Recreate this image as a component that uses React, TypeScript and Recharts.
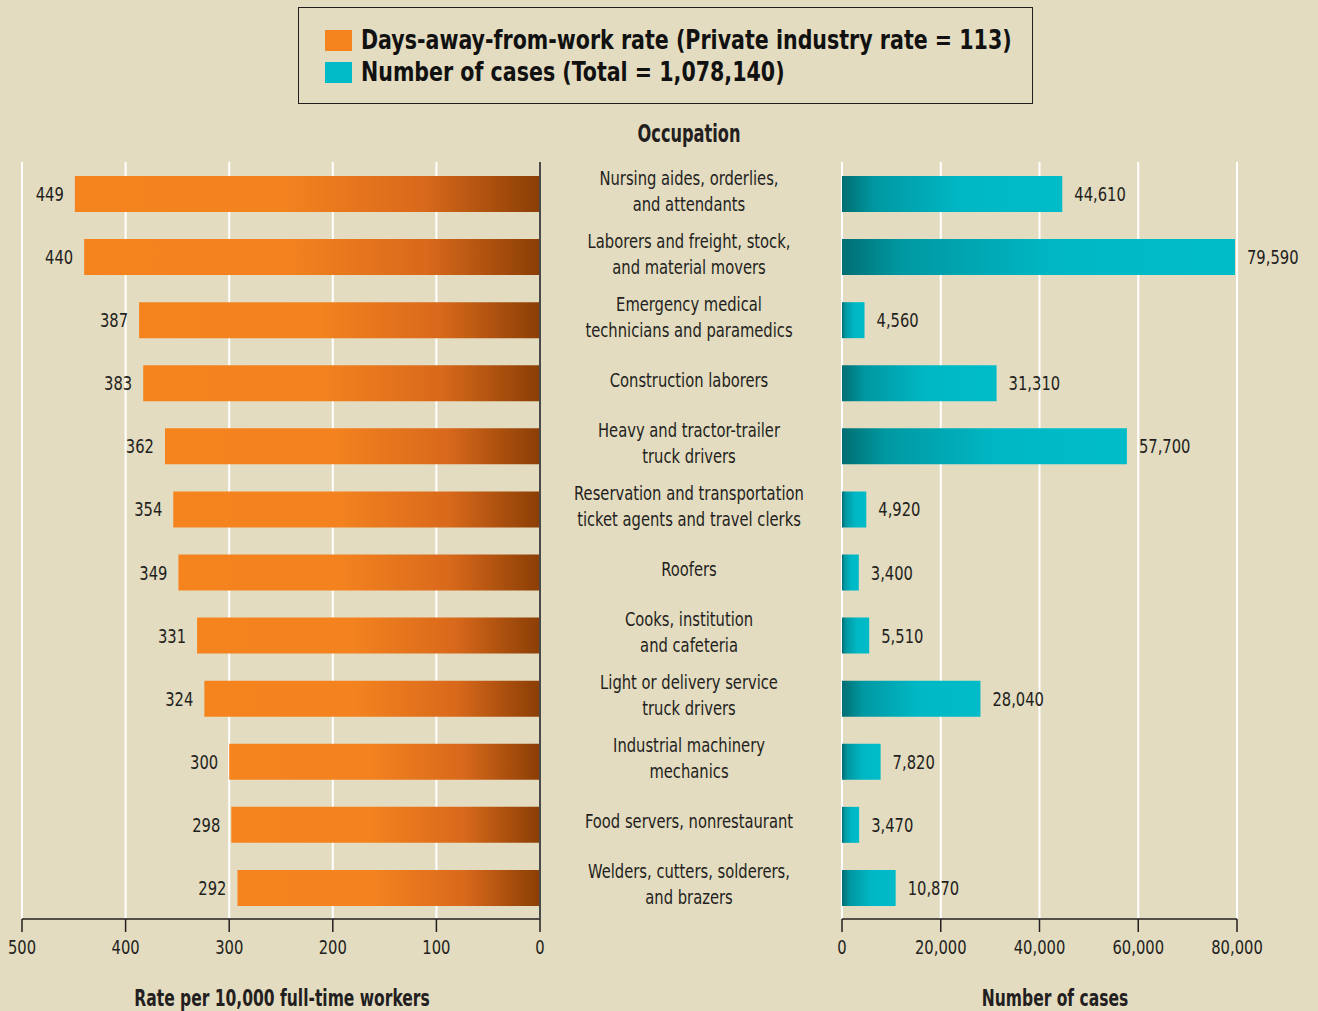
import { BarChart, Bar, XAxis, YAxis, CartesianGrid, LabelList } from "recharts";

const occupations = [
  "Nursing aides, orderlies,\nand attendants",
  "Laborers and freight, stock,\nand material movers",
  "Emergency medical\ntechnicians and paramedics",
  "Construction laborers",
  "Heavy and tractor-trailer\ntruck drivers",
  "Reservation and transportation\nticket agents and travel clerks",
  "Roofers",
  "Cooks, institution\nand cafeteria",
  "Light or delivery service\ntruck drivers",
  "Industrial machinery\nmechanics",
  "Food servers, nonrestaurant",
  "Welders, cutters, solderers,\nand brazers",
];
const rates = [449, 440, 387, 383, 362, 354, 349, 331, 324, 300, 298, 292];
const cases = [44610, 79590, 4560, 31310, 57700, 4920, 3400, 5510, 28040, 7820, 3470, 10870];
const rateTicks = [0, 100, 200, 300, 400, 500];
const caseTicks = [0, 20000, 40000, 60000, 80000];

const data = occupations.map((name, i) => ({ name, rate: rates[i], cases: cases[i] }));

const FONT = "'DejaVu Sans Condensed', 'DejaVu Sans', sans-serif";
const INK = "#231f20";
const BG = "#e3dcc0";
const SQUEEZE = 0.82; // no condensed Myriad available, so narrow the glyphs

const fmt = (v: number) => v.toLocaleString("en-US");

// text drawn narrower than the font so it reads like the condensed original
const NarrowText = ({ x, y, anchor, children, size = 20, weight = 400, sx = SQUEEZE }: any) => (
  <text
    transform={`translate(${x},${y}) scale(${sx},1)`}
    x={0}
    y={0}
    dy="0.35em"
    textAnchor={anchor}
    fill={INK}
    fontSize={size}
    fontWeight={weight}
    fontFamily={FONT}
  >
    {children}
  </text>
);

// two-line occupation labels in the middle column
const OccupationTick = (props: any) => {
  const { x, y, payload } = props;
  const lines = String(payload.value).split("\n");
  const lh = 26;
  const cx = x + 149;
  const start = y - 3 - ((lines.length - 1) * lh) / 2;
  return (
    <g>
      {lines.map((l, i) => (
        <NarrowText key={i} x={cx} y={start + i * lh} anchor="middle">
          {l}
        </NarrowText>
      ))}
    </g>
  );
};

const AxisTick = (props: any) => {
  const { x, y, payload, fmtFn } = props;
  return (
    <NarrowText x={x} y={y + 11} anchor="middle">
      {fmtFn ? fmtFn(payload.value) : payload.value}
    </NarrowText>
  );
};

const RateLabel = (props: any) => {
  const { x, y, width, height, value } = props;
  const left = Math.min(x, x + width);
  return (
    <NarrowText x={left - 11} y={y + height / 2} anchor="end">
      {value}
    </NarrowText>
  );
};

const CaseLabel = (props: any) => {
  const { x, y, width, height, value } = props;
  const right = Math.max(x, x + width);
  return (
    <NarrowText x={right + 12} y={y + height / 2} anchor="start">
      {fmt(Number(value))}
    </NarrowText>
  );
};

const titleCss = {
  position: "absolute" as const,
  top: 985,
  fontSize: 23,
  fontWeight: 700,
  color: INK,
  whiteSpace: "nowrap" as const,
  transform: "translateX(-50%) scaleX(0.75)",
};

export default function App() {
  return (
    <div style={{ position: "absolute", left: 0, top: 0, width: 1318, height: 1011, background: BG, fontFamily: FONT, overflow: "hidden" }}>
      <div
        style={{
          position: "absolute",
          left: 298,
          top: 7,
          width: 735,
          height: 97,
          boxSizing: "border-box",
          border: `1px solid ${INK}`,
        }}
      >
        {[
          { color: "#f5841f", text: "Days-away-from-work rate (Private industry rate = 113)", top: 20 },
          { color: "#00bac7", text: "Number of cases (Total = 1,078,140)", top: 52 },
        ].map((it) => (
          <div key={it.text} style={{ position: "absolute", left: 26, top: it.top, display: "flex", alignItems: "center", height: 24 }}>
            <span style={{ width: 27, height: 21, background: it.color, display: "inline-block", marginRight: 9, flex: "none" }} />
            <span style={{ fontSize: 26, fontWeight: 700, color: "#111", whiteSpace: "nowrap", transform: "scaleX(0.88)", transformOrigin: "left center" }}>
              {it.text}
            </span>
          </div>
        ))}
      </div>

      <div style={{ ...titleCss, left: 689, top: 120, fontSize: 24 }}>Occupation</div>
      <div style={{ ...titleCss, left: 282 }}>Rate per 10,000 full-time workers</div>
      <div style={{ ...titleCss, left: 1055 }}>Number of cases</div>

      <div style={{ position: "absolute", left: 0, top: 0 }}>
        <BarChart width={840} height={1011} data={data} layout="vertical" margin={{ top: 162, right: 0, left: 22, bottom: 42 }} barSize={36}>
          <defs>
            <linearGradient id="orangeGrad" x1="0" y1="0" x2="1" y2="0">
              <stop offset="0" stopColor="#f5841f" />
              <stop offset="0.45" stopColor="#f3821f" />
              <stop offset="0.75" stopColor="#d9691b" />
              <stop offset="1" stopColor="#8a3e05" />
            </linearGradient>
          </defs>
          <CartesianGrid horizontal={false} stroke="#ffffff" strokeWidth={2} />
          <XAxis
            type="number"
            dataKey="rate"
            domain={[0, 500]}
            ticks={rateTicks}
            reversed
            height={50}
            tickSize={13}
            tickMargin={4}
            axisLine={{ stroke: INK, strokeWidth: 1.5 }}
            tickLine={{ stroke: INK, strokeWidth: 1.5 }}
            tick={<AxisTick />}
          />
          <YAxis
            type="category"
            dataKey="name"
            orientation="right"
            width={300}
            tickLine={false}
            tickSize={0}
            tickMargin={0}
            axisLine={{ stroke: "#4a4a4a", strokeWidth: 2 }}
            tick={<OccupationTick />}
            interval={0}
          />
          <Bar dataKey="rate" fill="url(#orangeGrad)" isAnimationActive={false}>
            <LabelList dataKey="rate" content={<RateLabel />} />
          </Bar>
        </BarChart>
      </div>

      <div style={{ position: "absolute", left: 800, top: 0 }}>
        <BarChart width={518} height={1011} data={data} layout="vertical" margin={{ top: 162, right: 81, left: 42, bottom: 42 }} barSize={36}>
          <defs>
            <linearGradient id="tealGrad" x1="0" y1="0" x2="1" y2="0">
              <stop offset="0" stopColor="#006e72" />
              <stop offset="0.15" stopColor="#0098a2" />
              <stop offset="0.55" stopColor="#00b8c5" />
              <stop offset="1" stopColor="#00bcc8" />
            </linearGradient>
          </defs>
          <CartesianGrid horizontal={false} stroke="#ffffff" strokeWidth={2} />
          <XAxis
            type="number"
            dataKey="cases"
            domain={[0, 80000]}
            ticks={caseTicks}
            height={50}
            tickSize={13}
            tickMargin={4}
            axisLine={{ stroke: INK, strokeWidth: 1.5 }}
            tickLine={{ stroke: INK, strokeWidth: 1.5 }}
            tick={<AxisTick fmtFn={fmt} />}
          />
          <YAxis type="category" dataKey="name" width={0} tick={false} tickLine={false} axisLine={{ stroke: INK, strokeWidth: 2 }} />
          <Bar dataKey="cases" fill="url(#tealGrad)" isAnimationActive={false}>
            <LabelList dataKey="cases" content={<CaseLabel />} />
          </Bar>
        </BarChart>
      </div>
    </div>
  );
}
